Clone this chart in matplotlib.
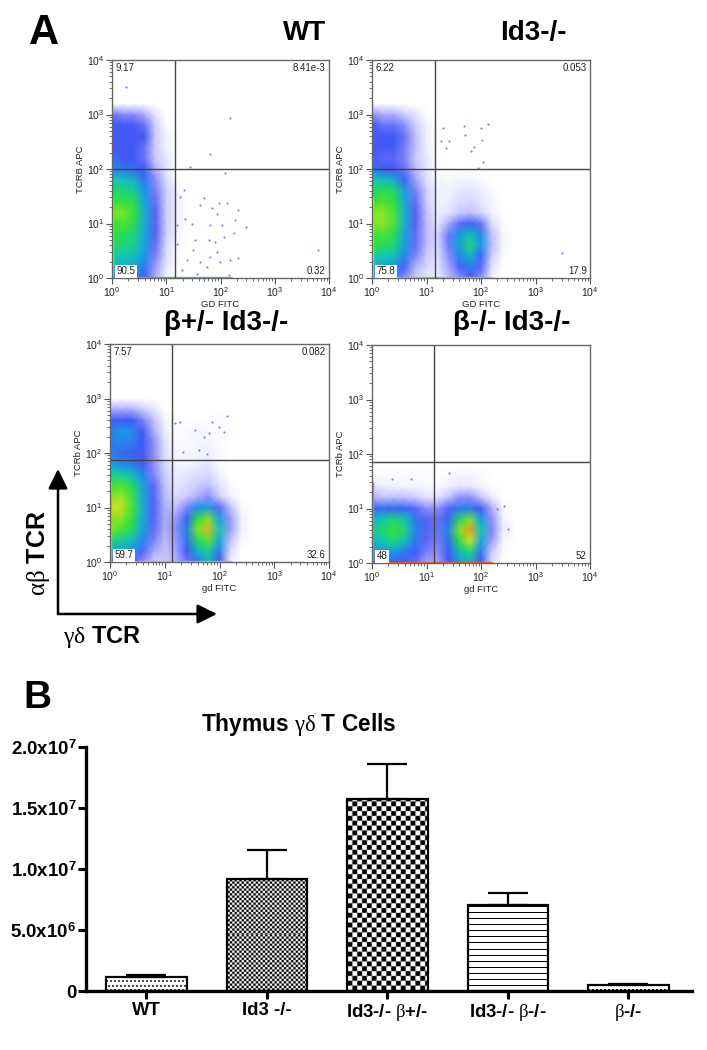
import numpy as np
import matplotlib
matplotlib.use("Agg")
import matplotlib.pyplot as plt
from matplotlib.colors import LinearSegmentedColormap
from matplotlib.ticker import NullFormatter

W, H = 707, 1050

plt.rcParams['font.family'] = ['Liberation Sans', 'DejaVu Sans']
plt.rcParams['mathtext.fontset'] = 'custom'
plt.rcParams['mathtext.rm'] = 'Liberation Sans'
plt.rcParams['mathtext.bf'] = 'Liberation Sans:bold'
plt.rcParams['mathtext.it'] = 'Liberation Serif'

# flow plots: density level (0 = empty, 8 = hottest)
# nodes every 0.2 decade; rows go from log y = 3.4 down to 0, columns log x = 0 to 2.6
log_x_nodes = [0, .2, .4, .6, .8, 1.0, 1.2, 1.4, 1.6, 1.8, 2.0, 2.2, 2.4, 2.6]
log_y_nodes = [3.4, 3.2, 3.0, 2.8, 2.6, 2.4, 2.2, 2.0, 1.8, 1.6, 1.4, 1.2, 1.0, .8, .6, .4, .2, 0]

density_wt = [
    [0, 0, 0, 0, 0, 0, 0, 0, 0, 0, 0, 0, 0, 0],
    [0, 0, 0, 0, 0, 0, 0, 0, 0, 0, 0, 0, 0, 0],
    [2.5, 2, 2, 1.5, .5, 0, 0, 0, 0, 0, 0, 0, 0, 0],
    [3, 3, 3, 2.5, 1, 0, 0, 0, 0, 0, 0, 0, 0, 0],
    [3, 3, 3, 3, 1, .3, 0, 0, 0, 0, 0, 0, 0, 0],
    [3, 3, 3, 2.5, 1, .3, 0, 0, 0, 0, 0, 0, 0, 0],
    [3.5, 3, 3, 2.5, 1, .5, 0, 0, 0, 0, 0, 0, 0, 0],
    [3.5, 3.5, 3.3, 3, 1.5, .5, 0, 0, 0, 0, 0, 0, 0, 0],
    [5, 4.8, 4.5, 3.5, 2, .7, 0, 0, 0, 0, 0, 0, 0, 0],
    [5.5, 5.5, 5.2, 4, 2.3, 1, .2, 0, 0, 0, 0, 0, 0, 0],
    [6, 6, 5.8, 4.3, 2.6, 1, .3, 0, 0, 0, 0, 0, 0, 0],
    [6.5, 6.5, 6, 4.5, 2.8, 1, .3, 0, 0, 0, 0, 0, 0, 0],
    [6, 6.2, 5.8, 4.5, 2.8, 1, .3, 0, 0, 0, 0, 0, 0, 0],
    [6, 5.8, 5.5, 4.3, 2.8, 1, .2, 0, 0, 0, 0, 0, 0, 0],
    [5.5, 5.5, 5.2, 4.2, 2.6, .8, .1, 0, 0, 0, 0, 0, 0, 0],
    [5, 5, 4.8, 4, 2.3, .7, 0, 0, 0, 0, 0, 0, 0, 0],
    [4.5, 4.5, 4.3, 3.5, 1.8, .5, 0, 0, 0, 0, 0, 0, 0, 0],
    [4, 4, 4, 3, 1.5, .3, 0, 0, 0, 0, 0, 0, 0, 0],
]
density_id3 = [
    [0, 0, 0, 0, 0, 0, 0, 0, 0, 0, 0, 0, 0, 0],
    [0, 0, 0, 0, 0, 0, 0, 0, 0, 0, 0, 0, 0, 0],
    [2, 1.5, 1.5, 1, .5, 0, 0, 0, 0, 0, 0, 0, 0, 0],
    [3, 2.5, 2.5, 2, 1, .3, 0, 0, 0, 0, 0, 0, 0, 0],
    [3, 3, 3, 2.5, 1.2, .3, 0, 0, 0, 0, 0, 0, 0, 0],
    [3, 3, 3, 2.3, 1.2, .4, 0, 0, 0, 0, 0, 0, 0, 0],
    [3, 2.7, 2.7, 2.2, 1, .5, 0, 0, 0, 0, 0, 0, 0, 0],
    [3.5, 3, 3, 2.5, 1.3, .5, .1, 0, 0, 0, 0, 0, 0, 0],
    [5, 4.8, 4.5, 3.3, 1.7, .6, .2, .1, .2, .2, .1, 0, 0, 0],
    [5.5, 5.8, 5.6, 4.2, 2.3, 1, .3, .3, .5, .6, .4, .1, 0, 0],
    [6, 6.2, 6, 4.4, 2.6, 1, .3, .4, .7, .8, .5, .2, 0, 0],
    [6.5, 6.6, 6.2, 4.5, 2.8, 1.2, .4, .5, 1, 1.2, .8, .3, 0, 0],
    [6.5, 6.6, 6.2, 4.5, 2.8, 1.3, .5, 1.5, 2.6, 3.2, 2.5, .7, .1, 0],
    [6, 6.2, 5.8, 4.3, 2.6, 1.3, .8, 2.4, 4, 4.8, 3.8, 1.2, .2, 0],
    [6, 5.8, 5.5, 4.2, 2.6, 1.3, .7, 2.4, 4.2, 5.5, 4, 1.3, .2, 0],
    [5, 5, 4.8, 3.8, 2.2, 1, .6, 2, 3.6, 4.5, 3.3, 1, .1, 0],
    [4.5, 4.3, 3.9, 2.8, 1.4, .8, .5, 1.6, 2.8, 3.5, 2.7, .6, 0, 0],
    [4, 3.5, 3, 2, 1, .5, .4, 1.2, 2, 3, 2, .3, 0, 0],
]
density_het = [
    [0, 0, 0, 0, 0, 0, 0, 0, 0, 0, 0, 0, 0, 0],
    [0, 0, 0, 0, 0, 0, 0, 0, 0, 0, 0, 0, 0, 0],
    [0, 0, 0, 0, 0, 0, 0, 0, 0, 0, 0, 0, 0, 0],
    [1.5, 1.5, 1.5, 1, .5, 0, 0, 0, 0, 0, 0, 0, 0, 0],
    [3, 3, 3, 2.3, 1.2, .3, 0, 0, 0, 0, .1, 0, 0, 0],
    [3.5, 4, 3.8, 3, 1.5, .4, .1, .1, .2, .1, .1, 0, 0, 0],
    [3.5, 3.8, 3.6, 3, 2, .6, .1, .1, .2, .2, .1, 0, 0, 0],
    [3.5, 3.3, 3.1, 3, 2, .6, .2, .2, .2, .3, .1, 0, 0, 0],
    [4.2, 3.8, 3.6, 3, 2, .8, .3, .2, .4, .5, .1, 0, 0, 0],
    [5.2, 5.2, 4.8, 3.8, 2.2, 1, .4, .5, .7, .8, .3, 0, 0, 0],
    [6, 6.2, 5.7, 4.2, 2.7, 1.2, .5, .7, 1, 1.2, .6, .1, 0, 0],
    [6.5, 6.7, 6.1, 4.4, 2.8, 1.3, .7, 1, 1.5, 2, 1, .3, 0, 0],
    [7, 7.1, 6.2, 4.5, 2.8, 1.5, 1.2, 2.2, 3.8, 4, 2.7, 1.2, .1, 0],
    [6.5, 6.6, 6, 4.4, 2.8, 1.5, 1.8, 3.2, 5.8, 6.5, 4.2, 1.8, .3, 0],
    [6.5, 6.2, 5.7, 4.2, 2.6, 1.5, 2, 3.6, 6.5, 7.6, 5, 1.8, .3, 0],
    [5.5, 5.2, 4.8, 3.8, 2.3, 1.3, 1.8, 3.4, 5.6, 6.3, 4.4, 1.2, .1, 0],
    [4.5, 4.3, 3.9, 2.8, 1.6, 1.2, 1.6, 3, 4.5, 5.2, 3.5, .7, 0, 0],
    [3.5, 3.3, 3, 2, 1, 1, 1.4, 2.5, 3.5, 4.5, 3, .3, 0, 0],
]
density_ko = [
    [0, 0, 0, 0, 0, 0, 0, 0, 0, 0, 0, 0, 0, 0],
    [0, 0, 0, 0, 0, 0, 0, 0, 0, 0, 0, 0, 0, 0],
    [0, 0, 0, 0, 0, 0, 0, 0, 0, 0, 0, 0, 0, 0],
    [0, 0, 0, 0, 0, 0, 0, 0, 0, 0, 0, 0, 0, 0],
    [0, 0, 0, 0, 0, 0, 0, 0, 0, 0, 0, 0, 0, 0],
    [0, 0, 0, 0, 0, 0, 0, 0, 0, 0, 0, 0, 0, 0],
    [0, 0, 0, 0, 0, 0, 0, 0, 0, 0, 0, 0, 0, 0],
    [0, 0, 0, 0, 0, 0, 0, 0, 0, 0, 0, 0, 0, 0],
    [0, 0, 0, 0, 0, 0, 0, 0, 0, 0, 0, 0, 0, 0],
    [0, .1, .1, .1, .1, .1, .05, .1, .2, .2, .1, 0, 0, 0],
    [.7, .4, .3, .2, .2, .15, .15, .3, .5, .5, .2, .05, 0, 0],
    [1.5, 1.2, 1.3, 1.2, 1, .6, .6, 1.2, 2, 2, 1.2, .4, 0, 0],
    [3.3, 3.3, 3.2, 3.2, 2.7, 2, 2, 2.8, 3.5, 3.6, 3, 1.5, .2, 0],
    [4.5, 5, 5.5, 5, 3.5, 2.8, 2.5, 3.2, 5.5, 6.5, 4.2, 2, .3, 0],
    [5, 5.5, 6, 5.5, 3.7, 2.8, 2.5, 3.6, 6.5, 8, 5, 2.2, .4, .1],
    [4.5, 5, 5.5, 4.8, 3.5, 2.7, 2.3, 3.4, 5.8, 7, 4.4, 1.8, .2, 0],
    [4, 4, 4, 3.5, 3, 2.3, 2, 3, 4.6, 5.5, 3.5, 1, .1, 0],
    [3.5, 3.3, 3, 3, 2.5, 1.6, 1.6, 3, 4, 4.5, 3, .7, 0, 0],
]

# lone events outside the dense clouds, in decades
stray_wt_x = [2.18, 1.81, 2.09, 1.44, .25, 1.69, 1.63, 1.98, 2.12, 1.84, 2.33, 1.93, 1.32, 1.26, 1.2, 1.35, 2.27,
              1.47, 1.81, 2.02, 2.47, 2.24, 2.06, 1.53, 1.78, 1.9, 1.5, 1.93, 2.18, 2.33, 1.99, 1.81, 3.8, 1.38,
              1.2, 1.29, 1.56, 2.15, 1.75, 1.63]
stray_wt_y = [2.93, 2.28, 1.93, 2.03, 3.5, 1.46, 1.34, 1.37, 1.37, 1.28, 1.25, 1.18, 1.61, 1.49, .97, 1.09, 1.06,
              1.0, .97, .97, .94, .82, .75, .69, .69, .66, .51, .48, .33, .36, .29, .39, .52, .33,
              .63, .14, .08, .05, .2, .29]
stray_id3_x = [1.3, 1.69, 2.12, 2.0, 1.7, 1.42, 1.27, 2.01, 1.35, 1.88, 1.82, 2.04, 1.94, 3.48]
stray_id3_y = [2.76, 2.79, 2.83, 2.76, 2.63, 2.52, 2.52, 2.53, 2.38, 2.4, 2.33, 2.12, 2.01, .45]
stray_het_x = [2.14, 1.87, 1.99, 2.08, 1.8, 1.71, 1.56, 1.28, 1.18, 1.34, 1.62, 1.77]
stray_het_y = [2.67, 2.56, 2.48, 2.39, 2.36, 2.3, 2.43, 2.56, 2.55, 2.02, 2.06, 1.98]
stray_ko_x = [2.42, 2.5, 2.3, 1.42, .36, .72]
stray_ko_y = [1.05, .62, 1.0, 1.66, 1.55, 1.55]

gate_x = [14.5, 14.3, 13.6, 14]
gate_y = [100, 100, 74, 71]
quadrant_ul = ['9.17', '6.22', '7.57', '']
quadrant_ur = ['8.41e-3', '0.053', '0.082', '']
quadrant_ll = ['90.5', '75.8', '59.7', '48']
quadrant_lr = ['0.32', '17.9', '32.6', '52']
x_names = ['GD FITC', 'GD FITC', 'gd FITC', 'gd FITC']
y_names = ['TCRB APC', 'TCRB APC', 'TCRb APC', 'TCRb APC']
panel_titles = ['WT', 'Id3-/-', 'β+/- Id3-/-', 'β-/- Id3-/-']

# bar chart
genotypes = ['WT', 'Id3 -/-', r'Id3-/- $\mathit{\beta}$+/-', r'Id3-/- $\mathit{\beta}$-/-', r'$\mathit{\beta}$-/-']
cell_counts = [1.15e6, 9.2e6, 1.57e7, 7.05e6, 5.0e5]
count_errors = [1.5e5, 2.35e6, 2.9e6, 9.5e5, 7e4]
count_ticks = [0, 5e6, 1e7, 1.5e7, 2e7]
count_tick_labels = ['0', r'5.0x10$^{\mathbf{6}}$', r'1.0x10$^{\mathbf{7}}$', r'1.5x10$^{\mathbf{7}}$', r'2.0x10$^{\mathbf{7}}$']

flow_cmap = LinearSegmentedColormap.from_list('flow', ['#ffffff', '#ccccff', '#8e8efc', '#4458f6', '#1898e8',
                                                        '#14c8b0', '#2fe03a', '#c2e81e', '#f59a1c'])


def px_axes(fig, x0, y0, x1, y1):
    return fig.add_axes([x0 / W, 1 - y1 / H, (x1 - x0) / W, (y1 - y0) / H])


def flow_panel(ax, i, density, stray_x, stray_y, left_color, bottom_color):
    xs = 10.0 ** np.array(log_x_nodes)
    ys = 10.0 ** np.array(log_y_nodes)
    ax.pcolormesh(xs, ys, np.array(density), cmap=flow_cmap, vmin=0, vmax=8, shading='gouraud', rasterized=True)
    ax.scatter(10.0 ** np.array(stray_x), 10.0 ** np.array(stray_y), s=2.4, color='#8080f5', linewidths=0)
    ax.set_xscale('log')
    ax.set_yscale('log')
    ax.set_xlim(1, 1e4)
    ax.set_ylim(1, 1e4)
    ax.plot([1.04, 1.04], [1, 30], color=left_color, lw=1.0, solid_capstyle='butt')
    ax.plot([1.3, 160], [1.04, 1.04], color=bottom_color, lw=0.9, solid_capstyle='butt')
    ax.axvline(gate_x[i], color='#444444', lw=1.0)
    ax.axhline(gate_y[i], color='#444444', lw=1.0)
    for s in ax.spines.values():
        s.set_color('#666666')
        s.set_linewidth(1.0)
    ax.tick_params(which='major', length=4, width=0.8, color='#555555', labelsize=7.5, pad=1.5, labelcolor='#222222')
    ax.tick_params(which='minor', length=2.2, width=0.6, color='#555555')
    ax.xaxis.set_major_locator(matplotlib.ticker.LogLocator(10, numticks=6))
    ax.yaxis.set_major_locator(matplotlib.ticker.LogLocator(10, numticks=6))
    ax.xaxis.set_minor_locator(matplotlib.ticker.LogLocator(10, subs=np.arange(2, 10), numticks=12))
    ax.yaxis.set_minor_locator(matplotlib.ticker.LogLocator(10, subs=np.arange(2, 10), numticks=12))
    ax.xaxis.set_minor_formatter(NullFormatter())
    ax.yaxis.set_minor_formatter(NullFormatter())
    ax.set_xlabel(x_names[i], fontsize=6.8, labelpad=0.5, color='#222222')
    ax.set_ylabel(y_names[i], fontsize=6.8, labelpad=1, color='#222222')
    box = dict(facecolor='white', edgecolor='none', pad=1.2)
    ax.text(.018, .965, quadrant_ul[i], transform=ax.transAxes, fontsize=7, va='center', color='#222222')
    ax.text(.985, .965, quadrant_ur[i], transform=ax.transAxes, fontsize=7, va='center', ha='right', color='#222222')
    ax.text(.02, .03, quadrant_ll[i], transform=ax.transAxes, fontsize=7, va='center', color='#222222', bbox=box)
    ax.text(.985, .03, quadrant_lr[i], transform=ax.transAxes, fontsize=7, va='center', ha='right', color='#222222',
            bbox=box, zorder=5, clip_on=False)


def pattern_fill(ax, rect, kind, size, tone):
    # the fill is only a drawn texture, one image cell per screen pixel, clipped to the bar
    box = rect.get_window_extent()
    nx = max(int(round(box.width)), 1)
    ny = max(int(round(box.height)), 1)
    yy, xx = np.mgrid[0:ny, 0:nx]
    if kind == 'check':
        wave = np.sin(2 * np.pi * xx / size) * np.sin(2 * np.pi * yy / size)
        tex = 0.5 + 0.5 * np.clip(tone * wave, -1, 1)
    elif kind == 'dots':
        tex = np.where((yy % size < size / 2) & ((xx + size // 2 * (yy // (size // 2) % 4 // 2)) % size < size / 2), tone, 1.0)
    else:
        tex = np.where(yy % size == size - 1, tone, 1.0)
    x0, y0 = rect.get_x(), rect.get_y()
    im = ax.imshow(tex, cmap='gray', vmin=0, vmax=1, aspect='auto', origin='lower', interpolation='nearest',
                   extent=(x0, x0 + rect.get_width(), y0, y0 + rect.get_height()), zorder=1)
    im.set_clip_path(rect)


fig = plt.figure(figsize=(W / 100, H / 100), dpi=100)

flow_boxes = [(112, 60, 329, 278), (372, 60, 590, 278), (110, 344, 329, 562), (372, 345, 590, 563)]
densities = [density_wt, density_id3, density_het, density_ko]
strays = [(stray_wt_x, stray_wt_y), (stray_id3_x, stray_id3_y), (stray_het_x, stray_het_y), (stray_ko_x, stray_ko_y)]
left_colors = ['#8be03a', '#d8d83a', '#e0b040', '#e88a30']
bottom_colors = ['#22c8b0', '#9adf40', '#e6c030', '#e86030']
for i, b in enumerate(flow_boxes):
    ax = px_axes(fig, *b)
    flow_panel(ax, i, densities[i], strays[i][0], strays[i][1], left_colors[i], bottom_colors[i])

title_spots = [(305, 33), (533, 33), (226, 323), (512, 323)]
for name, (tx, ty) in zip(panel_titles, title_spots):
    fig.text(tx / W, 1 - ty / H, name, fontsize=20, fontweight='bold', ha='center', va='center')
fig.text(44 / W, 1 - 33 / H, 'A', fontsize=30, fontweight='bold', ha='center', va='center')
fig.text(37 / W, 1 - 698 / H, 'B', fontsize=28, fontweight='bold', ha='center', va='center')

# axis key in the lower left
arrow = dict(arrowstyle='-|>,head_width=0.42,head_length=0.85', color='black', lw=1.8, shrinkA=0, shrinkB=0)
fig.add_artist(matplotlib.patches.FancyArrowPatch((58 / W, 1 - 614 / H), (58 / W, 1 - 469 / H),
                                                  transform=fig.transFigure, mutation_scale=14, **arrow))
fig.add_artist(matplotlib.patches.FancyArrowPatch((58 / W, 1 - 614 / H), (217 / W, 1 - 614 / H),
                                                  transform=fig.transFigure, mutation_scale=14, **arrow))
fig.text(38 / W, 1 - 553 / H, r'$\mathit{\alpha\beta}$ TCR', fontsize=18, fontweight='bold', rotation=90,
         ha='center', va='center')
fig.text(102 / W, 1 - 637 / H, r'$\mathit{\gamma\delta}$ TCR', fontsize=17, fontweight='bold', ha='center', va='center')

# bar chart panel
ax = px_axes(fig, 86, 747, 692, 991)
positions = np.arange(len(genotypes))
bars = ax.bar(positions, cell_counts, width=0.67, facecolor='none', edgecolor='black', linewidth=1.6, zorder=3)
ax.errorbar(positions, cell_counts, yerr=[np.zeros(len(count_errors)), count_errors], fmt='none', ecolor='black',
            elinewidth=1.6, capsize=14.7, capthick=1.6, zorder=2)
ax.set_xlim(-0.502, 4.527)
ax.set_ylim(0, 2e7)
fig.canvas.draw()
fills = [('dots', 4, 0.3), ('check', 4.7, 1.4), ('check', 9.7, 3.0), ('lines', 6, 0.0), ('dots', 4, 0.05)]
for rect, (kind, size, tone) in zip(bars, fills):
    pattern_fill(ax, rect, kind, size, tone)
ax.set_xlim(-0.502, 4.527)
ax.set_ylim(0, 2e7)
ax.set_xticks(positions)
ax.set_xticklabels(genotypes, fontsize=13.3, fontweight='bold')
ax.set_yticks(count_ticks)
ax.set_yticklabels(count_tick_labels, fontsize=13.4, fontweight='bold')
ax.spines['top'].set_visible(False)
ax.spines['right'].set_visible(False)
ax.spines['left'].set_linewidth(2.4)
ax.spines['bottom'].set_linewidth(2.4)
ax.tick_params(axis='y', length=6, width=2.2, pad=1)
ax.tick_params(axis='x', length=6, width=2.2, pad=2)
fig.text(299 / W, 1 - 725 / H, r'Thymus $\mathit{\gamma\delta}$ T Cells', fontsize=16.3, fontweight='bold',
         ha='center', va='center')

fig.savefig('out.png', dpi=100)
